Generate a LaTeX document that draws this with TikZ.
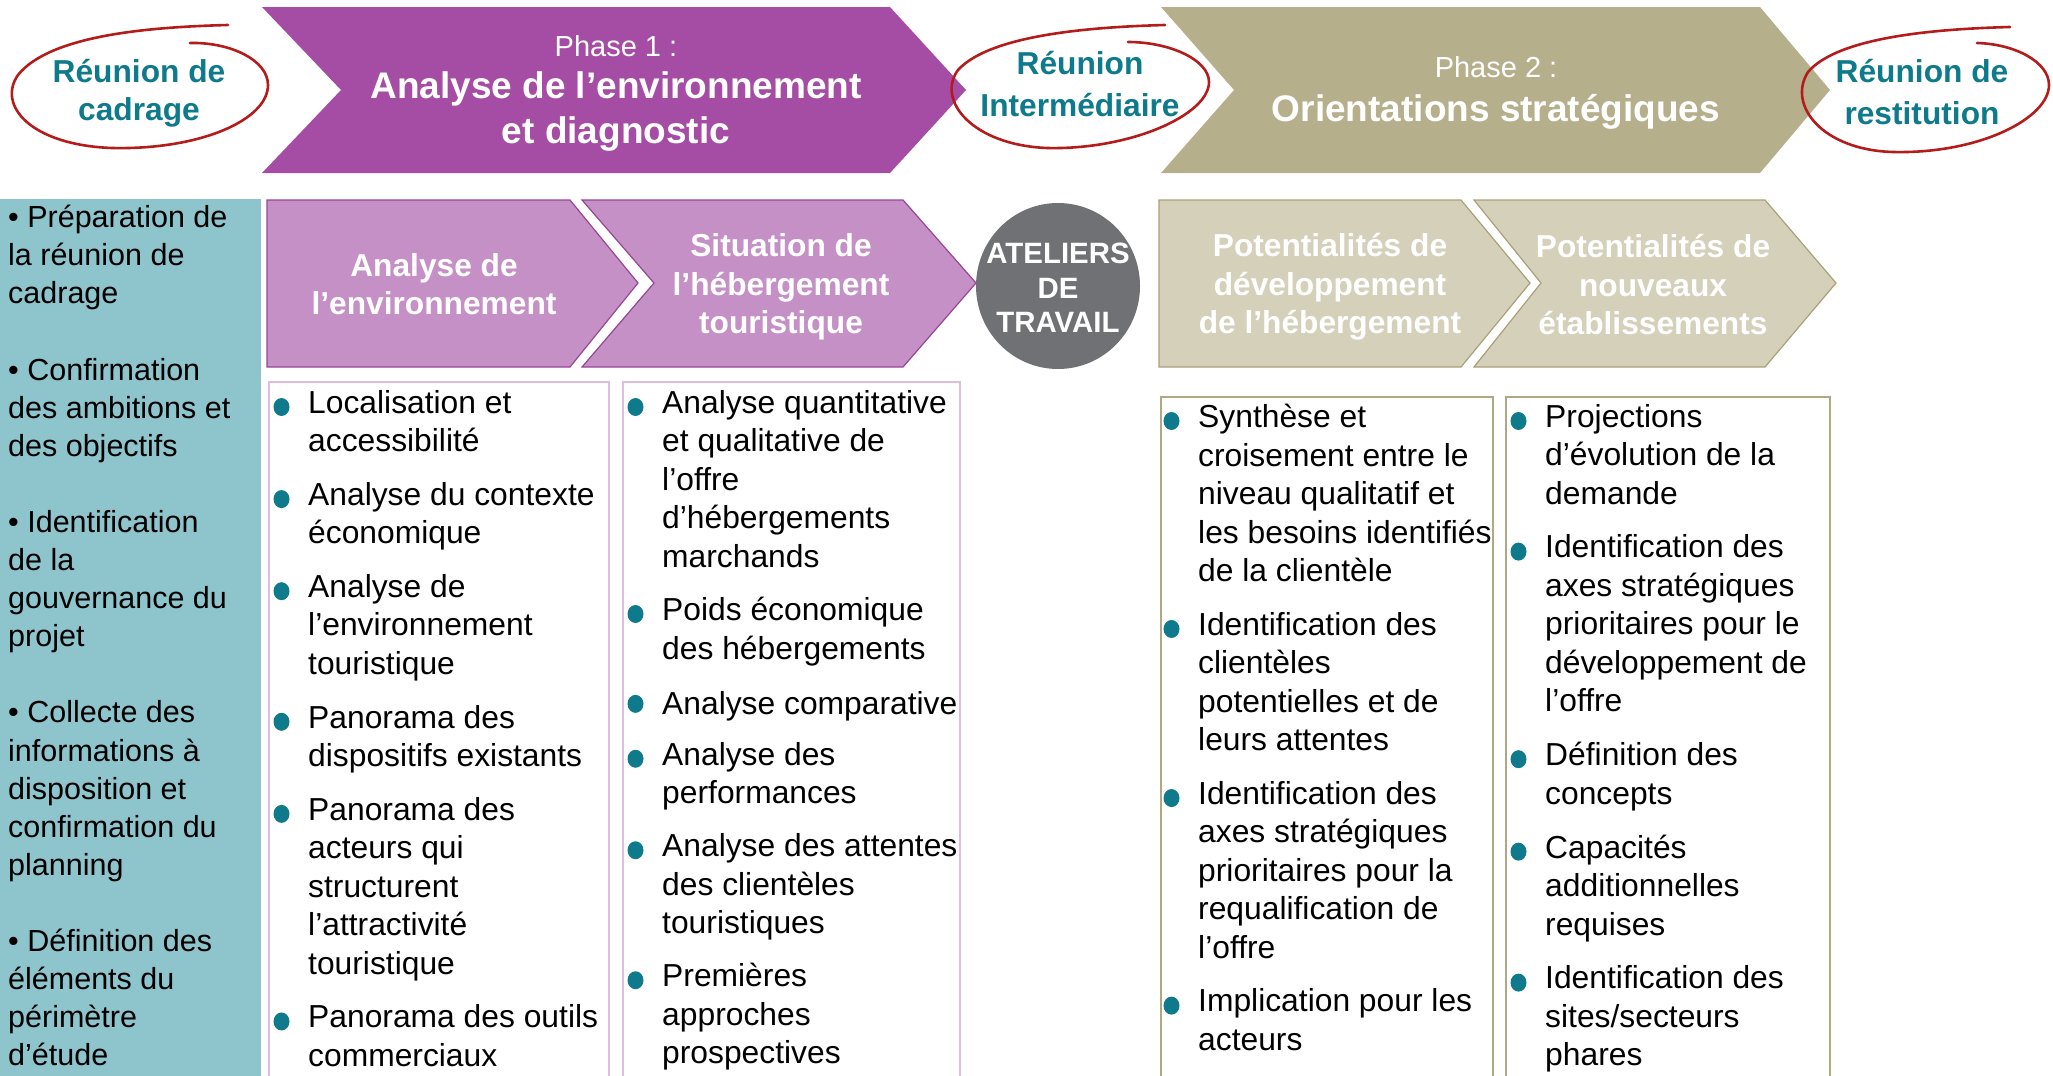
\documentclass[tikz,border=0pt]{standalone}
\usepackage{fontspec}
\setmainfont{Liberation Sans}
\usetikzlibrary{positioning, calc}
\definecolor{phaseone}{RGB}{165,76,165}
\definecolor{phasetwo}{RGB}{181,175,140}
\definecolor{stepone}{RGB}{197,144,197}
\definecolor{steponeline}{RGB}{150,70,150}
\definecolor{steptwo}{RGB}{213,208,186}
\definecolor{steptwoline}{RGB}{170,160,120}
\definecolor{meetteal}{RGB}{14,122,140}
\definecolor{meetred}{RGB}{180,28,28}
\definecolor{panelblue}{RGB}{142,197,205}
\definecolor{ateliergrey}{RGB}{112,113,116}
\definecolor{boxone}{RGB}{221,190,221}
\definecolor{boxtwo}{RGB}{176,168,130}
\newcommand{\brk}{\\\strut}
\tikzset{
  phasebig/.style={text=white, align=center, font={\fontsize{37}{45}\selectfont\bfseries}},
  phasesmall/.style={text=white, font={\fontsize{29}{34}\selectfont}},
  meeting/.style={text=meetteal, align=center, font={\fontsize{31.7}{40}\selectfont\bfseries}},
  ring/.style={draw=meetred, line width=2.6pt, line cap=round},
  steppurple/.style={fill=stepone, draw=steponeline, line width=1.2pt},
  steptan/.style={fill=steptwo, draw=steptwoline, line width=1.2pt},
  steptext/.style={text=white, align=center, font={\fontsize{31.7}{38.5}\selectfont\bfseries}},
  atelier/.style={text=white, align=center, font={\fontsize{29.4}{34.5}\selectfont\bfseries}},
  paneltext/.style={anchor=north west, inner sep=0pt, align=left,
                    font={\fontsize{30.5}{38.1}\selectfont}, execute at begin node=\strut},
  itemtext/.style={anchor=north west, inner sep=0pt, align=left,
                   font={\fontsize{31.8}{38.5}\selectfont}, execute at begin node=\strut},
  colone/.style={draw=boxone, line width=2pt},
  coltwo/.style={draw=boxtwo, line width=2pt},
  bulletdot/.style={fill=meetteal},
}

\begin{document}
\begin{tikzpicture}[x=1pt, y=1pt]
\useasboundingbox (0,0) rectangle (2053,-1076);

% phase banners
\fill[phaseone] (262,-7) -- (890,-7) -- (966,-90) -- (890,-173) -- (262,-173) -- (341,-90) -- cycle;
\fill[phasetwo] (1161,-7) -- (1760,-7) -- (1830,-90) -- (1760,-173) -- (1161,-173) -- (1234,-90) -- cycle;
\node[phasesmall] (ph1lab) at (616,-46) {Phase 1 :};
\node[phasebig] (ph1) at (616,-112) {Analyse de l’environnement\\et diagnostic};
\node[phasesmall] (ph2lab) at (1496,-67) {Phase 2 :};
\node[phasebig] (ph2) at (1496,-112) {Orientations stratégiques};

% meetings, circled by hand
\draw[ring] (228,-25) .. controls (150,-27) and (50,-35) .. (18,-75)
  .. controls (-3,-105) and (30,-145) .. (112,-148)
  .. controls (200,-150) and (268,-120) .. (268,-85)
  .. controls (268,-60) and (230,-42) .. (190,-43);
\draw[ring] (1165,-25) .. controls (1090,-27) and (990,-35) .. (958,-70)
  .. controls (936,-100) and (972,-145) .. (1047,-148)
  .. controls (1130,-150) and (1209,-115) .. (1209,-82)
  .. controls (1209,-60) and (1170,-42) .. (1128,-42);
\draw[ring] (2010,-27) .. controls (1935,-29) and (1838,-37) .. (1808,-72)
  .. controls (1787,-105) and (1822,-150) .. (1893,-152)
  .. controls (1980,-154) and (2049,-118) .. (2049,-85)
  .. controls (2049,-62) and (2015,-44) .. (1977,-43);
\node[meeting, font={\fontsize{31.7}{38}\selectfont\bfseries}] (cadrage) at (139,-93) {Réunion de\\cadrage};
\node[meeting, font={\fontsize{31.7}{42}\selectfont\bfseries}] (interm) at (1080,-84) {Réunion\\Intermédiaire};
\node[meeting, font={\fontsize{31.7}{42}\selectfont\bfseries}] (restit) at (1922,-92) {Réunion de\\restitution};

% preparation column
\fill[panelblue] (0,-199) rectangle (261,-1076);
\node[paneltext] (prep) at (8,-205) {• Préparation de\brk la réunion de\brk cadrage\brk\brk
  • Confirmation\brk des ambitions et\brk des objectifs\brk\brk
  • Identification\brk de la\brk gouvernance du\brk projet\brk\brk
  • Collecte des\brk informations à\brk disposition et\brk confirmation du\brk planning\brk\brk
  • Définition des\brk éléments du\brk périmètre\\d’étude};

% steps
\filldraw[steppurple] (267,-200) -- (570,-200) -- (638,-283) -- (570,-367) -- (267,-367) -- cycle;
\filldraw[steppurple] (582,-200) -- (903,-200) -- (976,-283) -- (903,-367) -- (582,-367) -- (654,-283) -- cycle;
\fill[ateliergrey] (1058,-286) ellipse (82 and 83);
\filldraw[steptan] (1159,-200) -- (1461,-200) -- (1530,-283) -- (1461,-367) -- (1159,-367) -- cycle;
\filldraw[steptan] (1474,-200) -- (1765,-200) -- (1836,-283) -- (1765,-367) -- (1474,-367) -- (1541,-283) -- cycle;
\node[steptext] (env) at (434,-284) {Analyse de\\l’environnement};
\node[steptext] (heb) at (781,-287) {Situation de\\l’hébergement\\touristique};
\node[atelier] (ateliers) at (1058,-288) {ATELIERS\\DE\\TRAVAIL};
\node[steptext] (devel) at (1330,-287) {Potentialités de\\développement\\de l’hébergement};
\node[steptext] (etab) at (1653,-285) {Potentialités de\\nouveaux\\établissements};

% content boxes
\draw[colone] (269,-382) rectangle (609,-1080);
\draw[colone] (623,-382) rectangle (960,-1080);
\draw[coltwo] (1161,-397) rectangle (1493,-1080);
\draw[coltwo] (1506,-397) rectangle (1830,-1080);

% column 1
\node[itemtext] (c1a) at (308,-390) {Localisation et\brk accessibilité};
\node[itemtext, below right=18.6pt and 0pt of c1a.south west] (c1b) {Analyse du contexte\brk économique};
\node[itemtext, below right=18.6pt and 0pt of c1b.south west] (c1c) {Analyse de\brk l’environnement\brk touristique};
\node[itemtext, below right=18.6pt and 0pt of c1c.south west] (c1d) {Panorama des\brk dispositifs existants};
\node[itemtext, below right=18.6pt and 0pt of c1d.south west] (c1e) {Panorama des\brk acteurs qui\brk structurent\brk l’attractivité\brk touristique};
\node[itemtext, below right=18.6pt and 0pt of c1e.south west] (c1f) {Panorama des outils\brk commerciaux};

% column 2
\node[itemtext] (c2a) at (662,-390) {Analyse quantitative\brk et qualitative de\brk l’offre\brk d’hébergements\brk marchands};
\node[itemtext, below right=18pt and 0pt of c2a.south west] (c2b) {Poids économique\brk des hébergements};
\node[itemtext, below right=16pt and 0pt of c2b.south west] (c2c) {Analyse comparative};
\node[itemtext, below right=16pt and 0pt of c2c.south west] (c2d) {Analyse des\brk performances};
\node[itemtext, below right=18pt and 0pt of c2d.south west] (c2e) {Analyse des attentes\brk des clientèles\brk touristiques};
\node[itemtext, below right=18pt and 0pt of c2e.south west] (c2f) {Premières\brk approches\brk prospectives};

% column 3
\node[itemtext] (c3a) at (1198,-404) {Synthèse et\brk croisement entre le\brk niveau qualitatif et\brk les besoins identifiés\brk de la clientèle};
\node[itemtext, below right=18.6pt and 0pt of c3a.south west] (c3b) {Identification des\brk clientèles\brk potentielles et de\brk leurs attentes};
\node[itemtext, below right=18.6pt and 0pt of c3b.south west] (c3c) {Identification des\brk axes stratégiques\brk prioritaires pour la\brk requalification de\brk l’offre};
\node[itemtext, below right=18.6pt and 0pt of c3c.south west] (c3d) {Implication pour les\brk acteurs};

% column 4
\node[itemtext] (c4a) at (1545,-404) {Projections\brk d’évolution de la\brk demande};
\node[itemtext, below right=18.6pt and 0pt of c4a.south west] (c4b) {Identification des\brk axes stratégiques\brk prioritaires pour le\brk développement de\brk l’offre};
\node[itemtext, below right=18.6pt and 0pt of c4b.south west] (c4c) {Définition des\brk concepts};
\node[itemtext, below right=18.6pt and 0pt of c4c.south west] (c4d) {Capacités\brk additionnelles\brk requises};
\node[itemtext, below right=18.6pt and 0pt of c4d.south west] (c4e) {Identification des\brk sites/secteurs\brk phares};

% bullets
\foreach \n in {c1a,c1b,c1c,c1d,c1e,c1f,c2a,c2b,c2c,c2d,c2e,c2f,c3a,c3b,c3c,c3d,c4a,c4b,c4c,c4d,c4e}
  \fill[bulletdot] ($(\n.north west)+(-26.5,-17)$) ellipse (8 and 9);
\end{tikzpicture}
\end{document}
